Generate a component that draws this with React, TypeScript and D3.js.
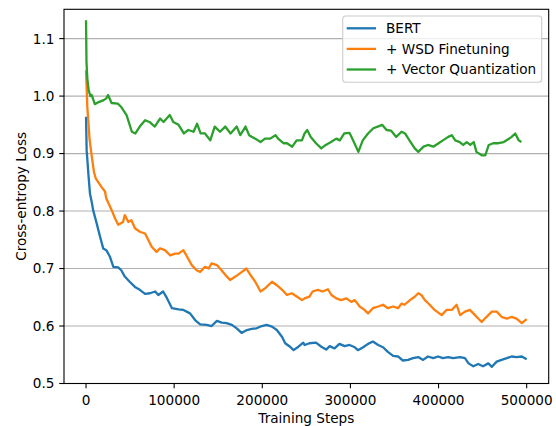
import { useMemo } from 'react';
import * as d3 from 'd3';

// Loss curves (steps, loss)
const bertSteps = [0, 700, 2900, 4500, 6800, 8000, 12000, 16000, 19500, 23000, 27000, 31000, 36500, 40000, 44000, 49500, 55500, 61000, 67000, 72500, 78500, 82000, 87500, 92000, 97500, 105000, 110500, 118000, 124000, 129500, 137000, 142500, 148500, 154000, 159500, 165500, 171000, 176500, 182500, 188000, 193500, 199500, 205000, 211000, 216500, 222500, 226000, 231500, 235500, 241000, 246500, 248000, 253500, 261000, 267000, 272500, 276500, 282000, 287500, 293500, 299000, 305000, 308500, 314500, 320000, 325500, 331500, 337000, 342500, 348500, 354000, 359500, 365500, 371000, 377000, 382500, 388000, 394000, 399500, 405000, 411000, 416500, 424500, 430000, 434000, 439500, 445000, 450500, 456500, 460500, 466000, 471500, 477500, 483000, 488500, 494500, 500000];
const bertLoss = [0.964, 0.906, 0.86, 0.83, 0.813, 0.802, 0.779, 0.755, 0.735, 0.732, 0.721, 0.703, 0.702, 0.697, 0.686, 0.677, 0.668, 0.663, 0.656, 0.657, 0.66, 0.654, 0.66, 0.648, 0.631, 0.629, 0.628, 0.622, 0.61, 0.603, 0.602, 0.6, 0.609, 0.606, 0.605, 0.602, 0.596, 0.588, 0.593, 0.595, 0.596, 0.6, 0.602, 0.599, 0.593, 0.581, 0.57, 0.564, 0.558, 0.564, 0.571, 0.567, 0.57, 0.571, 0.564, 0.559, 0.565, 0.561, 0.569, 0.565, 0.567, 0.563, 0.558, 0.563, 0.569, 0.573, 0.567, 0.563, 0.555, 0.548, 0.547, 0.54, 0.541, 0.544, 0.546, 0.541, 0.547, 0.544, 0.547, 0.544, 0.546, 0.544, 0.546, 0.544, 0.535, 0.53, 0.534, 0.53, 0.535, 0.529, 0.538, 0.541, 0.544, 0.547, 0.546, 0.547, 0.542];

const wsdSteps = [0, 1500, 4000, 6500, 9000, 11000, 17500, 21500, 23000, 29000, 33000, 36500, 42000, 44000, 48000, 51500, 55500, 61000, 67000, 70500, 74500, 80000, 84000, 89500, 95500, 101000, 105000, 110500, 114500, 120000, 125500, 129500, 135000, 139000, 142500, 148500, 152000, 158000, 163500, 169500, 175000, 182000, 186500, 192000, 198000, 203500, 211000, 216500, 222500, 228000, 233500, 239500, 245000, 248000, 253500, 257000, 263000, 268500, 274500, 278500, 284000, 289500, 295500, 301000, 305000, 310500, 316000, 320000, 325500, 331500, 337000, 342500, 348500, 354000, 358000, 361500, 367500, 373000, 377000, 380500, 384500, 390000, 395500, 403500, 409000, 415000, 420500, 424500, 430000, 435500, 439500, 445000, 449000, 454500, 460500, 466000, 471500, 477500, 483000, 488500, 494500, 500000];
const wsdLoss = [1.045, 0.98, 0.925, 0.895, 0.868, 0.857, 0.842, 0.834, 0.822, 0.802, 0.787, 0.776, 0.781, 0.793, 0.781, 0.784, 0.77, 0.764, 0.761, 0.75, 0.738, 0.729, 0.735, 0.732, 0.723, 0.726, 0.726, 0.732, 0.721, 0.706, 0.697, 0.694, 0.703, 0.7, 0.709, 0.706, 0.7, 0.689, 0.68, 0.686, 0.692, 0.7, 0.689, 0.677, 0.66, 0.666, 0.677, 0.671, 0.663, 0.654, 0.657, 0.651, 0.645, 0.648, 0.651, 0.66, 0.663, 0.66, 0.664, 0.654, 0.648, 0.645, 0.648, 0.642, 0.645, 0.634, 0.628, 0.622, 0.631, 0.634, 0.637, 0.631, 0.634, 0.631, 0.639, 0.637, 0.645, 0.651, 0.657, 0.654, 0.645, 0.637, 0.628, 0.619, 0.628, 0.628, 0.637, 0.619, 0.625, 0.628, 0.622, 0.613, 0.607, 0.616, 0.625, 0.625, 0.616, 0.613, 0.616, 0.613, 0.605, 0.612];

const vqSteps = [0, 500, 1500, 3000, 5000, 6400, 10000, 15000, 20000, 23000, 25000, 29000, 36000, 40000, 46000, 52000, 56000, 61000, 67000, 72000, 78000, 84000, 88000, 95000, 99000, 105000, 111000, 116000, 122000, 126000, 130000, 135000, 141000, 146000, 152000, 158000, 164000, 171000, 175000, 181000, 185000, 192000, 198000, 203000, 209000, 215000, 218000, 224000, 228000, 234000, 239000, 245000, 248000, 251000, 255000, 261000, 267000, 272000, 278000, 284000, 288000, 293000, 299000, 303000, 309000, 314000, 320000, 326000, 331000, 336000, 341000, 346000, 352000, 358000, 362000, 367000, 373000, 377000, 383000, 388000, 394000, 400000, 405000, 411000, 415000, 419000, 424000, 428000, 432000, 436000, 440000, 443000, 449000, 453000, 457000, 462000, 468000, 474000, 479000, 483000, 487000, 491000, 494000];
const vqLoss = [1.132, 1.06, 1.03, 1.01, 1.0, 1.002, 0.986, 0.99, 0.993, 0.996, 1.002, 0.988, 0.987, 0.981, 0.967, 0.938, 0.935, 0.947, 0.958, 0.955, 0.947, 0.961, 0.955, 0.967, 0.955, 0.95, 0.935, 0.941, 0.938, 0.952, 0.935, 0.935, 0.923, 0.947, 0.938, 0.947, 0.935, 0.947, 0.932, 0.947, 0.932, 0.926, 0.92, 0.926, 0.926, 0.932, 0.926, 0.918, 0.918, 0.912, 0.923, 0.923, 0.935, 0.941, 0.929, 0.918, 0.909, 0.915, 0.92, 0.926, 0.923, 0.935, 0.936, 0.923, 0.903, 0.923, 0.935, 0.944, 0.947, 0.95, 0.941, 0.94, 0.929, 0.938, 0.935, 0.923, 0.909, 0.903, 0.912, 0.915, 0.912, 0.918, 0.923, 0.929, 0.932, 0.923, 0.92, 0.915, 0.92, 0.915, 0.92, 0.903, 0.897, 0.897, 0.915, 0.918, 0.918, 0.92, 0.925, 0.929, 0.935, 0.923, 0.92];

const seriesNames = ['BERT', '+ WSD Finetuning', '+ Vector Quantization'];
const xTicks = [0, 100000, 200000, 300000, 400000, 500000];
const yTicks = [0.5, 0.6, 0.7, 0.8, 0.9, 1.0, 1.1];

const WIDTH = 556;
const HEIGHT = 426;
const MARGIN = { top: 9.3, right: 7.3, bottom: 42.5, left: 64 };
const COLORS = ['#1f77b4', '#ff7f0e', '#2ca02c'];
const FONT = 'DejaVu Sans, sans-serif';
const FS = 13.6;

export default function App() {
  const innerW = WIDTH - MARGIN.left - MARGIN.right;
  const innerH = HEIGHT - MARGIN.top - MARGIN.bottom;

  const x = useMemo(() => d3.scaleLinear().domain([-25000, 525000]).range([0, innerW]), [innerW]);
  const y = useMemo(() => d3.scaleLinear().domain([0.5, 1.151]).range([innerH, 0]), [innerH]);

  const series = [
    { steps: bertSteps, loss: bertLoss },
    { steps: wsdSteps, loss: wsdLoss },
    { steps: vqSteps, loss: vqLoss },
  ];

  const line = d3
    .line<[number, number]>()
    .x((d) => x(d[0]))
    .y((d) => y(d[1]));

  const legendX = innerW - 206;
  const legendY = 6.7;

  return (
    <svg
      width={WIDTH}
      height={HEIGHT}
      style={{ position: 'absolute', left: 0, top: 0, display: 'block', background: '#fff' }}
      fontFamily={FONT}
    >
      <g transform={`translate(${MARGIN.left},${MARGIN.top})`}>
        {yTicks.map((t) => (
          <line key={`g${t}`} x1={0} x2={innerW} y1={y(t)} y2={y(t)} stroke="#b0b0b0" strokeWidth={1.1} />
        ))}
        {series.map((s, i) => (
          <path
            key={seriesNames[i]}
            d={line(s.steps.map((st, j) => [st, s.loss[j]] as [number, number])) || ''}
            fill="none"
            stroke={COLORS[i]}
            strokeWidth={2.3}
            strokeLinejoin="round"
          />
        ))}
        <rect x={0} y={0} width={innerW} height={innerH} fill="none" stroke="#000" strokeWidth={1.1} />
        {yTicks.map((t) => (
          <g key={`y${t}`} transform={`translate(0,${y(t)})`}>
            <line x1={-4.8} x2={0} stroke="#000" strokeWidth={1.1} />
            <text x={-9.6} dy="0.36em" textAnchor="end" fontSize={FS} fill="#000">
              {t.toFixed(1)}
            </text>
          </g>
        ))}
        {xTicks.map((t) => (
          <g key={`x${t}`} transform={`translate(${x(t)},${innerH})`}>
            <line y1={0} y2={4.8} stroke="#000" strokeWidth={1.1} />
            <text y={21.5} textAnchor="middle" fontSize={FS} fill="#000">
              {t}
            </text>
          </g>
        ))}
        <text x={innerW / 2} y={innerH + 39.8} textAnchor="middle" fontSize={FS} fill="#000">
          Training Steps
        </text>
        <text
          transform={`translate(${26 - MARGIN.left},${innerH / 2}) rotate(-90)`}
          textAnchor="middle"
          fontSize={FS}
          fill="#000"
        >
          Cross-entropy Loss
        </text>
        <g transform={`translate(${legendX},${legendY})`}>
          <rect
            x={0}
            y={0}
            width={199}
            height={66.3}
            rx={3}
            fill="#fff"
            fillOpacity={0.8}
            stroke="#cccccc"
            strokeWidth={1.1}
          />
          {seriesNames.map((name, i) => (
            <g key={name} transform={`translate(0,${12.3 + i * 20.6})`}>
              <line x1={4} x2={33.3} stroke={COLORS[i]} strokeWidth={2.3} />
              <text x={43.3} dy="0.36em" fontSize={FS} fill="#000">
                {name}
              </text>
            </g>
          ))}
        </g>
      </g>
    </svg>
  );
}
